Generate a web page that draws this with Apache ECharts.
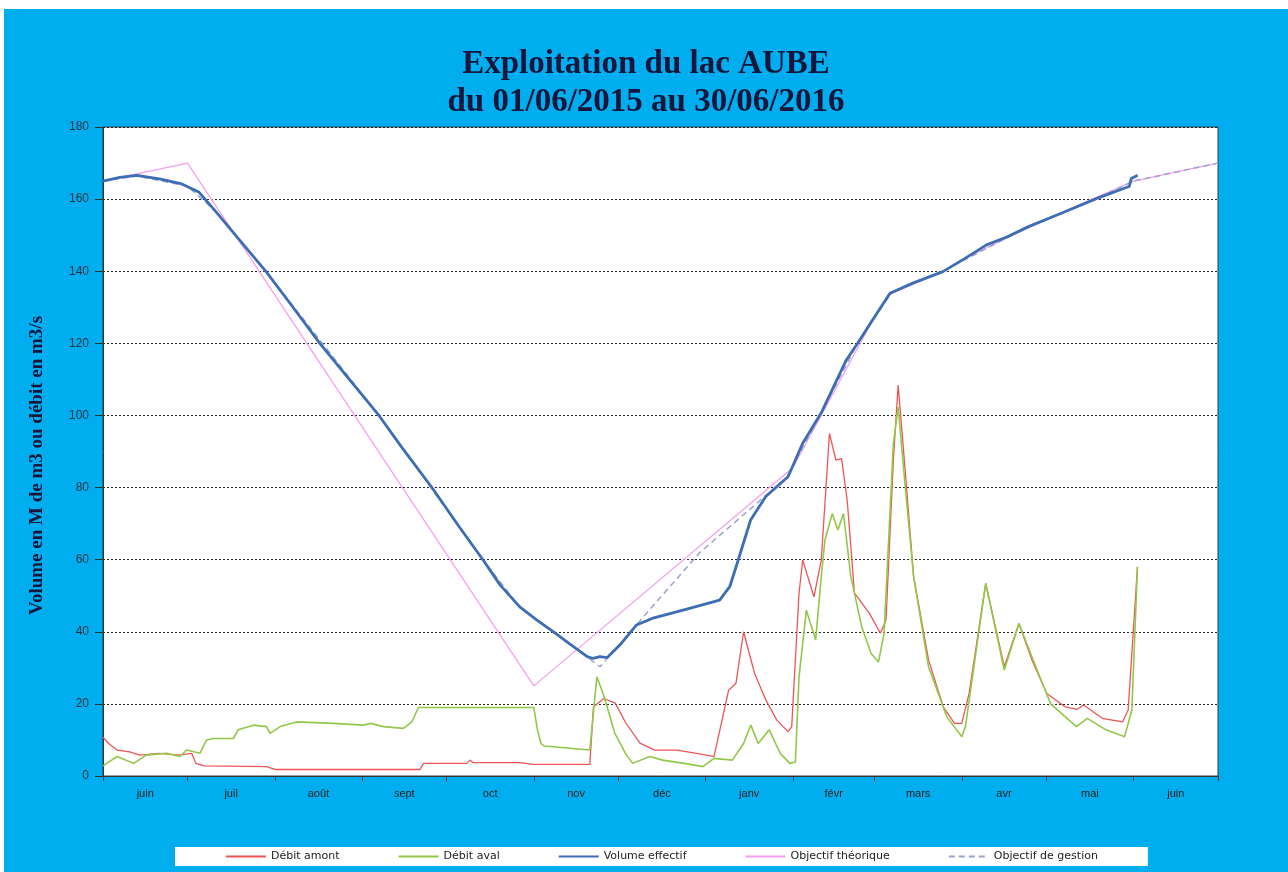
<!DOCTYPE html>
<html>
<head>
<meta charset="utf-8">
<title>Exploitation du lac AUBE</title>
<script src="https://cdn.jsdelivr.net/npm/echarts@6/dist/echarts.min.js"></script>
<style>
	html, body { margin: 0; padding: 0; background: #fff; }
	#main {
		position: absolute;
		left: 4px;
		top: 9px;
		width: 1284px;
		height: 863px;
		background: #00aeef;
	}
</style>
</head>
<body>
<div id="main"></div>
<script type="text/javascript">
// jours comptés depuis le 01/06/2015
var monthStarts = [0, 30, 61, 92, 122, 153, 183, 214, 245, 274, 305, 335, 366, 396];
var monthMids = [15, 45.5, 76.5, 107, 137.5, 168, 198.5, 229.5, 259.5, 289.5, 320, 350.5, 381];
var monthNames = ['juin', 'juil', 'août', 'sept', 'oct', 'nov', 'déc', 'janv', 'févr', 'mars', 'avr', 'mai', 'juin'];

var debitAmont = [
	[0,10.8],[2,9],[5,7.2],[9.5,6.7],[13,5.8],[20,6.3],[27,5.8],[31.5,6.3],[33,3.5],[36,2.8],
	[58,2.6],[61.5,1.8],[112.6,1.8],[113.8,3.5],[129.2,3.5],[130.3,4.4],[131.5,3.7],[148,3.7],
	[153,3.2],[172.9,3.2],[174.2,19.2],[177.9,21.5],[181.9,20.2],[185.7,14.7],[190.7,9.1],
	[195.9,7.2],[204,7.2],[214.3,5.8],[217,5.4],[222.2,23.8],[224.8,25.7],[227.5,40],
	[231.4,28.5],[235.4,21.1],[239.3,15.5],[243.3,12.3],[244.6,13.7],[247.2,50.7],[248.5,59.9],
	[252.5,49.7],[255.1,59.9],[258,95],[260.3,87.6],[262.3,88],[264.3,76.5],[266.9,50.7],
	[272.2,45.1],[276.1,39.6],[278.1,43.3],[280.7,87.6],[282.4,108.4],[284.6,87.6],[287.9,55.3],
	[293.2,32.2],[298.4,19.2],[302.4,14.6],[305,14.6],[307.6,22.9],[313.5,53.4],[320.1,30.3],
	[325.3,42.3],[329.9,32.2],[335.2,22.9],[341.7,19.2],[346,18.5],[348.3,19.7],[354.9,16],
	[362.1,15],[364.1,18.3],[367.4,58]
];

var debitAval = [
	[0,2.8],[1.3,3.5],[5,5.4],[10.9,3.5],[15.3,5.8],[22.5,6.3],[27.3,5.4],[29.7,7.2],[34.4,6.3],
	[36.8,10],[39.1,10.4],[46.3,10.4],[48,12.8],[53.4,14.1],[58.1,13.7],[59.3,11.8],[62.9,13.7],
	[68.8,15],[81.8,14.6],[92.5,14.1],[94.9,14.6],[99.6,13.7],[106.7,13.2],[109.7,15],[112,19],
	[153,19],[154.3,12.8],[155.6,9],[156.8,8.3],[172.9,7.2],[175.4,27.5],[178,22],[181.8,11.8],
	[185.6,6.2],[188.1,3.5],[194.2,5.4],[198.7,4.4],[206.5,3.5],[213,2.6],[217,4.9],[223.5,4.4],
	[227.5,9],[230.1,14.1],[232.7,9],[236.6,12.8],[240.6,6.2],[243.9,3.5],[245.9,3.9],[247.2,27.5],
	[249.8,46],[253.1,37.7],[255.1,55.3],[256.4,65.4],[259,72.8],[261,68.2],[263,72.8],[265.6,55.3],
	[269.5,41.3],[272.8,34],[275.4,31.6],[277.4,39.5],[280.7,92.2],[282.4,102.4],[284.6,83],
	[287.9,55.3],[293.2,30.3],[299.7,16.4],[305,10.9],[306.3,13.7],[313.5,53.4],[320.1,29.4],
	[325.3,42.3],[331.3,30.3],[336.5,20.1],[345.7,13.7],[349.6,16],[356.2,12.8],[362.8,10.9],
	[365.4,18.3],[367.4,58]
];

var volumeEffectif = [
	[0,165],[6,166],[12,166.6],[20,165.6],[28,164.2],[34,162],[40,156.6],[46,151],[58,139.8],
	[67,130.5],[77,120],[88,109.5],[98,100],[106,91.3],[117,79.8],[126,69.7],[135,59.9],[141,53],
	[148,46.9],[154,43.3],[160,40],[166,36.5],[172,33.1],[174,32.6],[176.5,33.1],[179,32.8],
	[184,36.7],[189.5,41.9],[195,43.7],[207,46.2],[219,48.8],[222.6,52.5],[225.6,59.9],[230,71],
	[235.4,77.5],[243.3,83],[248.5,92.3],[255,100.6],[264,115.4],[268,120],[274,127.3],
	[279.5,133.9],[287.6,136.7],[298.3,139.9],[306,143.5],[313.8,147.3],[321,149.5],[328.5,152.3],
	[341,156.3],[353,160.2],[362.7,163],[364.5,163.5],[365.2,165.7],[367.5,166.6]
];

var objectifTheorique = [
	[0,165],[30,170],[153,25],[245,85.5],[274,127.3],[279.5,133.6],[298,139.8],[305,143.2],
	[335,154.4],[366,165],[396,170]
];

var objectifGestion = [
	[0,165],[12,166.4],[30,163.6],[40,156.6],[58,139.8],[98,100],[135,59.9],[148,46.9],[155,42.6],
	[160,40],[176.5,30.3],[194,46],[212,62],[232,75.5],[243,83],[255,100.6],[268,120],[280,134],
	[298,139.9],[328.5,152.3],[353,160.2],[366,165],[396,170]
];

var myChart = echarts.init(document.getElementById('main'));

var option = {
	animation: false,
	title: {
		text: 'Exploitation du lac AUBE\ndu 01/06/2015 au 30/06/2016',
		left: 'center',
		top: 31,
		textStyle: {
			fontFamily: 'Liberation Serif',
			fontWeight: 'bold',
			fontSize: 33,
			lineHeight: 38,
			color: '#16163c'
		}
	},
	grid: {
		left: 99,
		top: 118,
		right: 70,
		bottom: 96,
		show: true,
		backgroundColor: '#fff',
		borderColor: '#2c3e55',
		borderWidth: 1
	},
	legend: {
		left: 171,
		bottom: 6,
		backgroundColor: '#fff',
		padding: [4, 50],
		itemGap: 58,
		itemWidth: 40,
		itemHeight: 10,
		itemStyle: { opacity: 0 },
		textStyle: { fontFamily: 'DejaVu Sans', fontSize: 11, color: '#222' },
		data: ['Débit amont', 'Débit aval', 'Volume effectif', 'Objectif théorique', 'Objectif de gestion']
	},
	xAxis: {
		type: 'value',
		min: 0,
		max: 396,
		axisLine: { show: true, lineStyle: { color: '#333', width: 1 } },
		axisTick: {
			show: true,
			customValues: monthStarts,
			length: 5,
			lineStyle: { color: '#333' }
		},
		axisLabel: {
			customValues: monthMids,
			margin: 12,
			color: '#222',
			fontFamily: 'Liberation Sans',
			fontSize: 11,
			formatter: function (v) {
				var i = monthMids.indexOf(v);
				return i >= 0 ? monthNames[i] : '';
			}
		},
		splitLine: { show: false }
	},
	yAxis: {
		type: 'value',
		min: 0,
		max: 180,
		interval: 20,
		name: 'Volume en M de m3 ou débit en m3/s',
		nameLocation: 'middle',
		nameRotate: 90,
		nameGap: 56,
		nameTextStyle: {
			fontFamily: 'Liberation Serif',
			fontWeight: 'bold',
			fontSize: 19,
			color: '#16163c',
			padding: [0, 28, 0, 0]
		},
		axisLine: { show: true, lineStyle: { color: '#333' } },
		axisTick: { show: true, length: 8, lineStyle: { color: '#333' } },
		axisLabel: {
			margin: 14,
			color: '#2b3445',
			fontFamily: 'Liberation Sans',
			fontSize: 12
		},
		splitLine: { show: true, lineStyle: { color: '#222', type: [2, 2], width: 1 } }
	},
	series: [
		{
			name: 'Débit amont',
			type: 'line',
			symbol: 'none',
			data: debitAmont,
			lineStyle: { color: '#ee5555', width: 1.3 },
			itemStyle: { color: '#ee5555' },
			z: 2
		},
		{
			name: 'Débit aval',
			type: 'line',
			symbol: 'none',
			data: debitAval,
			lineStyle: { color: '#92c84a', width: 1.6 },
			itemStyle: { color: '#92c84a' },
			z: 3
		},
		{
			name: 'Objectif théorique',
			type: 'line',
			symbol: 'none',
			data: objectifTheorique,
			lineStyle: { color: '#f59cf0', width: 1.2 },
			itemStyle: { color: '#f59cf0' },
			z: 4
		},
		{
			name: 'Objectif de gestion',
			type: 'line',
			symbol: 'none',
			data: objectifGestion,
			lineStyle: { color: '#9aa4cc', width: 1.5, type: [6, 4] },
			itemStyle: { color: '#9aa4cc' },
			z: 5
		},
		{
			name: 'Volume effectif',
			type: 'line',
			symbol: 'none',
			data: volumeEffectif,
			lineStyle: { color: '#3d6db5', width: 2.8 },
			itemStyle: { color: '#3d6db5' },
			z: 6
		}
	]
};

myChart.setOption(option);
</script>
</body>
</html>
